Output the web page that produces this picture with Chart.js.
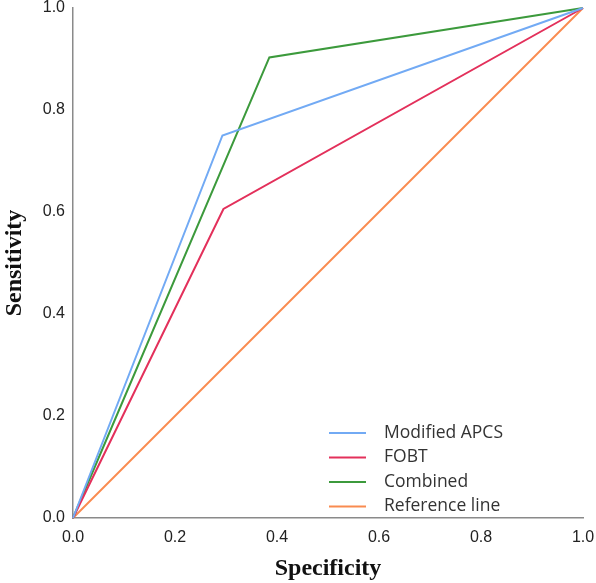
<!DOCTYPE html>
<html>
<head>
<meta charset="utf-8">
<script src="https://cdn.jsdelivr.net/npm/chart.js@4/dist/chart.umd.min.js"></script>
<style>
  html, body { margin: 0; padding: 0; background: #ffffff; }
  #wrap { width: 596px; height: 583px; position: relative; }
</style>
</head>
<body>
<div id="wrap"><canvas id="c" width="596" height="583"></canvas></div>
<script>
// ---- Data ----
const seriesNames = ["Modified APCS", "FOBT", "Combined", "Reference line"];
const apcsX = [0, 0.293, 1];
const apcsY = [0, 0.750, 1];
const fobtX = [0, 0.295, 1];
const fobtY = [0, 0.606, 1];
const combX = [0, 0.385, 1];
const combY = [0, 0.903, 1];
const refX  = [0, 1];
const refY  = [0, 1];
const tickValues = [0, 0.2, 0.4, 0.6, 0.8, 1.0];
const xTitle = "Specificity";
const yTitle = "Sensitivity";

const colors = ["#72aaf4", "#e3305b", "#3c9a3c", "#f98b50"];

function pts(xs, ys) { return xs.map((x, i) => ({ x: x, y: ys[i] })); }

const datasets = [
  { label: seriesNames[0], data: pts(apcsX, apcsY) },
  { label: seriesNames[1], data: pts(fobtX, fobtY) },
  { label: seriesNames[2], data: pts(combX, combY) },
  { label: seriesNames[3], data: pts(refX, refY) }
].map((d, i) => Object.assign(d, {
  borderColor: colors[i],
  backgroundColor: colors[i],
  borderWidth: 2,
  pointRadius: 0,
  pointHoverRadius: 0,
  showLine: true,
  tension: 0,
  fill: false,
  clip: 4
}));

// Custom legend drawn inside the plot area (lower right)
const insideLegend = {
  id: "insideLegend",
  afterDraw(chart) {
    const ctx = chart.ctx;
    const area = chart.chartArea;
    const x0 = area.left + 256;
    const lineLen = 37;
    const textX = x0 + 55;
    const y0 = area.top + 425;
    const step = 24.5;
    ctx.save();
    ctx.font = "17.5px 'Open Sans', 'Noto Sans', sans-serif";
    ctx.textBaseline = "middle";
    ctx.textAlign = "left";
    chart.data.datasets.forEach((ds, i) => {
      const y = y0 + i * step;
      ctx.strokeStyle = ds.borderColor;
      ctx.lineWidth = 2;
      ctx.beginPath();
      ctx.moveTo(x0, y);
      ctx.lineTo(x0 + lineLen, y);
      ctx.stroke();
      ctx.fillStyle = "#333333";
      ctx.fillText(ds.label, textX, y);
    });
    ctx.restore();
  }
};

const tickFont = { family: "'Liberation Sans', Arial, sans-serif", size: 16 };
const titleFont = { family: "'Liberation Serif', 'Times New Roman', serif", size: 24, weight: "bold" };

new Chart(document.getElementById("c"), {
  type: "scatter",
  data: { datasets: datasets },
  options: {
    responsive: false,
    animation: false,
    events: [],
    layout: { padding: { left: 0, right: 13, top: 8, bottom: 0 } },
    plugins: {
      legend: { display: false },
      tooltip: { enabled: false },
      title: { display: false }
    },
    scales: {
      x: {
        type: "linear",
        min: 0, max: 1,
        afterBuildTicks(scale) { scale.ticks = tickValues.map(v => ({ value: v })); },
        afterFit(scale) {
          scale.height = 65;
          scale.paddingLeft = 0; scale.paddingRight = 0;
        },
        grid: { display: false, drawTicks: false },
        border: { display: true, color: "#8a8a8a", width: 1.5 },
        ticks: {
          color: "#222222",
          font: tickFont,
          padding: 10,
          maxRotation: 0,
          callback: v => Number(v).toFixed(1)
        },
        title: {
          display: true,
          text: xTitle,
          color: "#111111",
          font: titleFont,
          padding: { top: 3, bottom: 0 }
        }
      },
      y: {
        type: "linear",
        min: 0, max: 1,
        afterBuildTicks(scale) { scale.ticks = tickValues.map(v => ({ value: v })); },
        afterFit(scale) {
          scale.width = 73;
          scale.paddingTop = 0; scale.paddingBottom = 0;
        },
        grid: { display: false, drawTicks: false },
        border: { display: true, color: "#8a8a8a", width: 1.5 },
        ticks: {
          color: "#222222",
          font: tickFont,
          padding: 8,
          callback: v => Number(v).toFixed(1)
        },
        title: {
          display: true,
          text: yTitle,
          color: "#111111",
          font: titleFont,
          padding: { top: 0, bottom: 0 }
        }
      }
    }
  },
  plugins: [insideLegend]
});
</script>
</body>
</html>
